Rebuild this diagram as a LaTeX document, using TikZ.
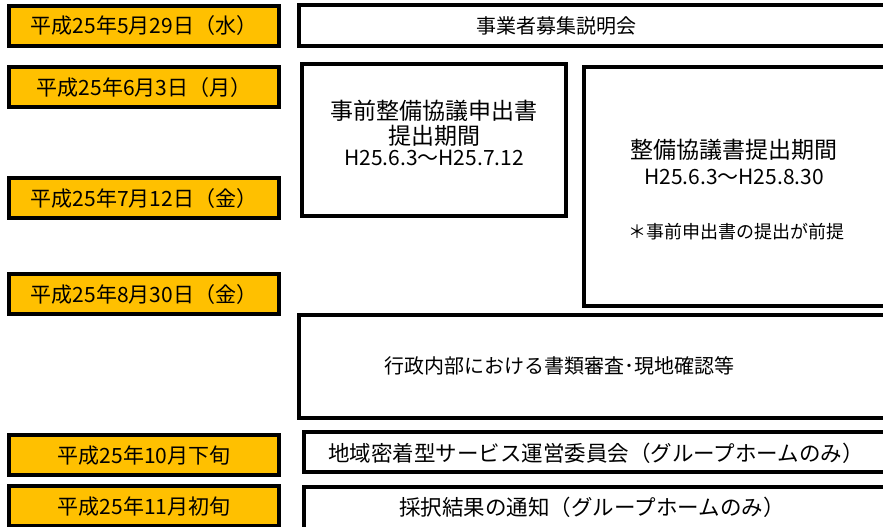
\documentclass[tikz,border=0pt]{standalone}
\usepackage{fontspec}
\setmainfont{Noto Sans CJK JP}
\usepackage{xcolor}
\usepackage{tikz}
\usetikzlibrary{positioning}

\definecolor{dategold}{HTML}{FFC000}

\begin{document}
\begin{tikzpicture}[
  x=1pt, y=-1pt,
  datebox/.style={draw, line width=4pt, fill=dategold, minimum width=270pt,
    minimum height=40pt, inner sep=0pt, font=\fontsize{21}{24}\selectfont,
    text height=18.5pt, text depth=2.5pt},
  stepbox/.style={draw, line width=3.2pt, fill=white},
  steptext/.style={font=\fontsize{20}{24}\selectfont, anchor=base},
  widetext/.style={font=\fontsize{21.5}{24}\selectfont, anchor=base},
  headtext/.style={font=\fontsize{23}{26}\selectfont, anchor=base},
  periodtext/.style={font=\fontsize{21}{24}\selectfont, anchor=base},
  notetext/.style={font=\fontsize{18}{22}\selectfont, anchor=base},
]
  \useasboundingbox (0,0) rectangle (883,527);
  \clip (0,0) rectangle (883,527);

  % Date boxes (left column)
  \node[datebox] (d1) at (144,26)  {平成25年5月29日（水）};
  \node[datebox] (d2) at (144,87)  {平成25年6月3日（月）};
  \node[datebox] (d3) at (144,198) {平成25年7月12日（金）};
  \node[datebox] (d4) at (144,294) {平成25年8月30日（金）};
  \node[datebox] (d5) at (144,455) {平成25年10月下旬};
  \node[datebox] (d6) at (144,506) {平成25年11月初旬};

  % Briefing session
  \draw[stepbox] (299,5) rectangle (900,46);
  \node[steptext] (t1) at (556,33.6) {事業者募集説明会};

  % Advance application period
  \draw[stepbox] (302,64) rectangle (566,216);
  \node[headtext]   (t2a) at (434,119.7) {事前整備協議申出書};
  \node[headtext]   (t2b) at (434,144.7) {提出期間};
  \node[periodtext] (t2c) at (434,165.5) {H25.6.3～H25.7.12};

  % Consultation period
  \draw[stepbox] (584,67) rectangle (900,306);
  \node[headtext]   (t3a) at (734,158.7) {整備協議書提出期間};
  \node[periodtext] (t3b) at (734,184.5) {H25.6.3～H25.8.30};
  \node[notetext]   (t3c) at (736,238.8) {＊事前申出書の提出が前提};

  % Internal review
  \draw[stepbox] (299,315) rectangle (900,418);
  \node[steptext] (t4) at (559,373.6) {行政内部における書類審査･現地確認等};

  % Committee and notice
  \draw[stepbox] (304,432) rectangle (900,472);
  \node[widetext] (t5) at (596,461) {地域密着型サービス運営委員会（グループホームのみ）};
  \draw[stepbox] (304,487) rectangle (900,540);
  \node[widetext] (t6) at (592,515) {採択結果の通知（グループホームのみ）};

\end{tikzpicture}
\end{document}
